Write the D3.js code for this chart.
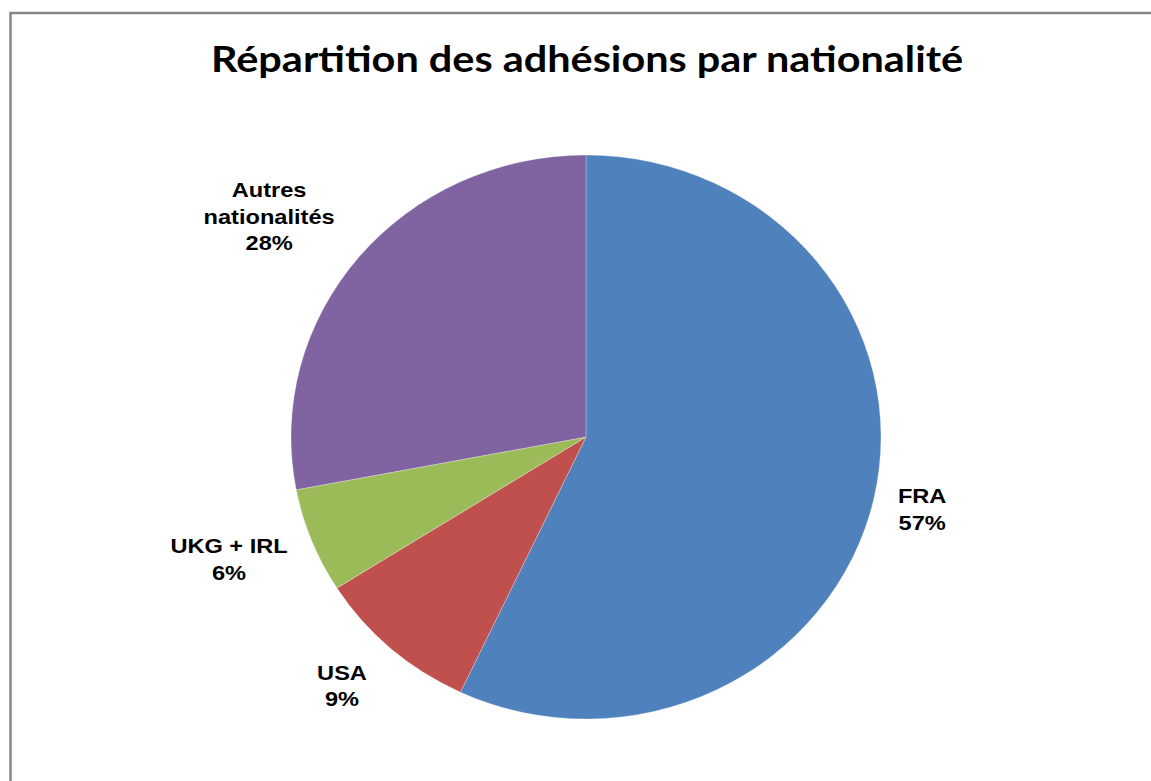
<!DOCTYPE html>
<html>
<head>
<meta charset="utf-8">
<script src="https://cdn.jsdelivr.net/npm/d3@7"></script>
<style>
  html, body { margin: 0; padding: 0; background: #fff; overflow: hidden; }
  svg { display: block; }
</style>
</head>
<body>
<div id="chart"></div>
<script>
"use strict";

var titleText = "Répartition des adhésions par nationalité";
var categories = ["FRA", "USA", "UKG + IRL", "Autres\nnationalités"];
var values = [57, 9, 6, 28];
var colors = ["#4F81BD", "#C0504D", "#9BBB59", "#8064A2"];

var width = 1151, height = 781;
var cx = 586, cy = 437;
var rx = 295, ry = 282;
var gapX = 24, gapY = 30;
var stretch = 1.18;
var lineH = 26.5;

var svg = d3.select("#chart").append("svg")
  .attr("width", width)
  .attr("height", height);

// chart frame (only the left and top edges are in view)
svg.append("path")
  .attr("d", "M10.5," + (height + 5) + "V13H" + (width + 5))
  .attr("fill", "none")
  .attr("stroke", "#868686")
  .attr("stroke-width", 2.5);

svg.append("text")
  .attr("x", 587).attr("y", 72)
  .attr("text-anchor", "middle")
  .attr("font-family", "Lato, 'Open Sans', sans-serif")
  .attr("font-weight", 700)
  .attr("font-size", 36)
  .attr("textLength", 752)
  .attr("lengthAdjust", "spacingAndGlyphs")
  .attr("fill", "#000")
  .text(titleText);

var data = categories.map(function (c, i) {
  return { name: c, value: values[i], color: colors[i] };
});

var pie = d3.pie().sort(null).value(function (d) { return d.value; });
var arcs = pie(data);

var arc = d3.arc().innerRadius(0).outerRadius(rx);

var g = svg.append("g")
  .attr("transform", "translate(" + cx + "," + cy + ") scale(1," + (ry / rx) + ")");

g.selectAll("path")
  .data(arcs)
  .enter().append("path")
  .attr("d", arc)
  .attr("fill", function (d) { return d.data.color; })
  .attr("stroke", "rgba(255,255,255,0.35)")
  .attr("stroke-width", 0.8);

// data labels, outside end
var labels = svg.append("g");

arcs.forEach(function (d) {
  var a = (d.startAngle + d.endAngle) / 2;
  var s = Math.sin(a), c = Math.cos(a);
  var pct = Math.round((d.endAngle - d.startAngle) / (2 * Math.PI) * 100) + "%";
  var lines = d.data.name.split("\n").concat([pct]);

  var lg = labels.append("g");
  var t = lg.append("text")
    .attr("text-anchor", "middle")
    .attr("font-family", "'Liberation Sans', Arial, sans-serif")
    .attr("font-weight", 700)
    .attr("font-size", 20)
    .attr("fill", "#000");
  t.selectAll("tspan")
    .data(lines)
    .enter().append("tspan")
    .attr("x", 0)
    .attr("dy", function (l, i) { return i === 0 ? 0 : lineH; })
    .text(function (l) { return l; });

  var w = t.node().getBBox().width * stretch;
  var capTop = -14;
  var h = (lines.length - 1) * lineH - capTop;

  var px = cx + rx * s, py = cy - ry * c;
  var bx = px + Math.sign(s) * (w / 2 + gapX);
  var by = py - c * (h / 2 + gapY);
  lg.attr("transform", "translate(" + bx + "," + (by - h / 2 - capTop) + ") scale(" + stretch + ",1)");
});
</script>
</body>
</html>
